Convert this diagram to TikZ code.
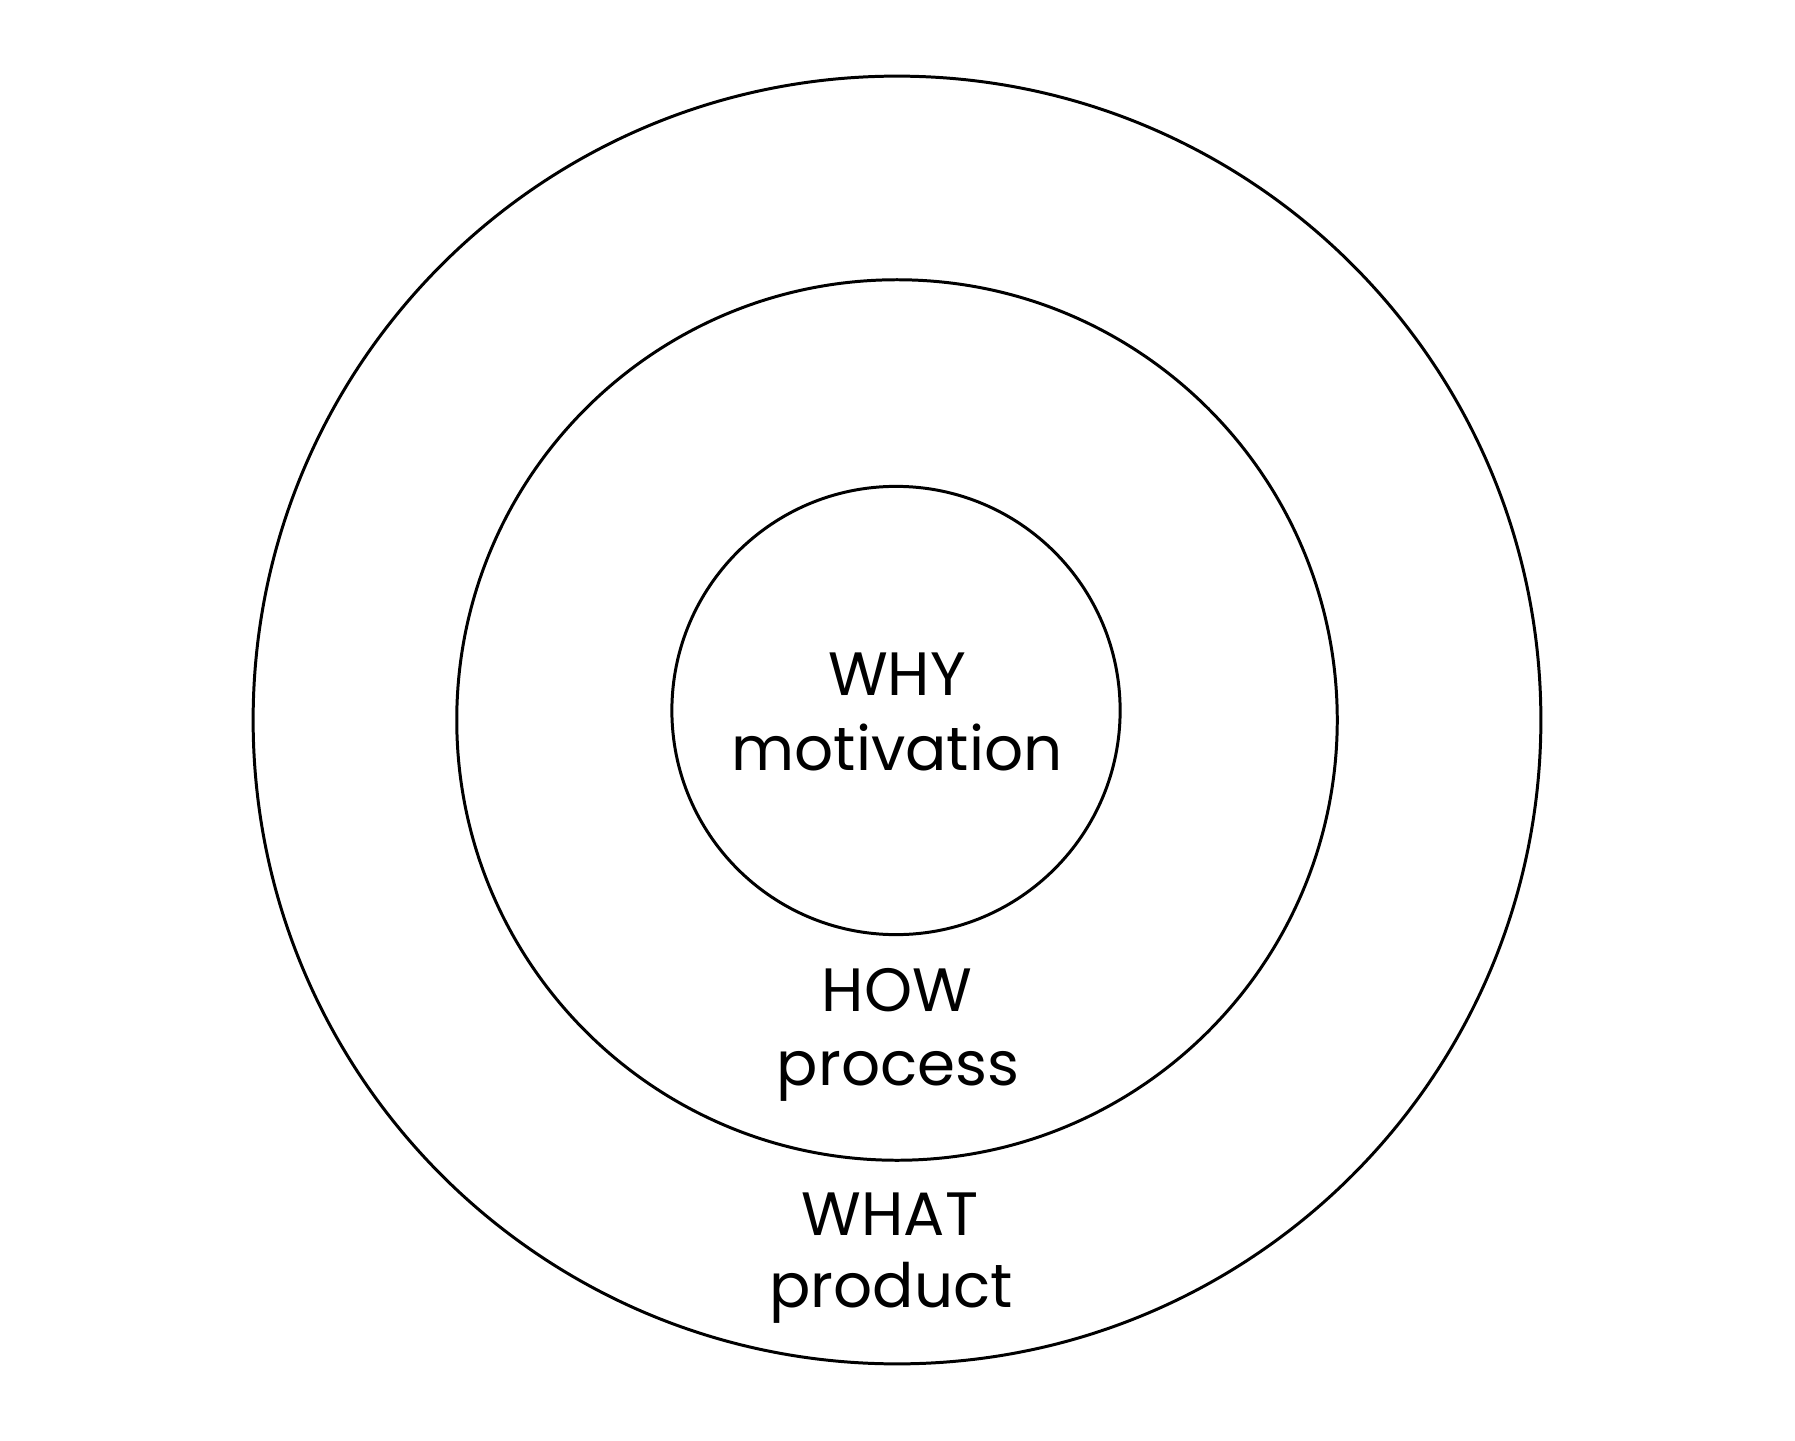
\documentclass[tikz,border=0pt]{standalone}
\usepackage{fontspec}
\setmainfont{Poppins}
\usepackage{tikz}

\tikzset{
  ring/.style={draw=black,line width=0.85pt},
  word/.style={anchor=base,inner sep=0pt,font=\fontsize{17.4}{20}\selectfont}
}

\begin{document}
\begin{tikzpicture}[x=0.01cm,y=-0.01cm]
    \useasboundingbox (0,0) rectangle (1795,1440);
    \draw[ring] (897,720) circle (6.435cm);
    \draw[ring] (897,720) circle (4.40cm);
    \draw[ring] (896,710.5) circle (2.24cm);

    \node[word] (why) at (897,695) {WHY};
    \node[word] (whytxt) at (897,770) {motivation};
    \node[word] (how) at (897,1011) {HOW};
    \node[word] (howtxt) at (898,1085) {process};
    \node[word] (what) at (890,1235) {WHAT};
    \node[word] (whattxt) at (891,1307) {product};
\end{tikzpicture}
\end{document}
